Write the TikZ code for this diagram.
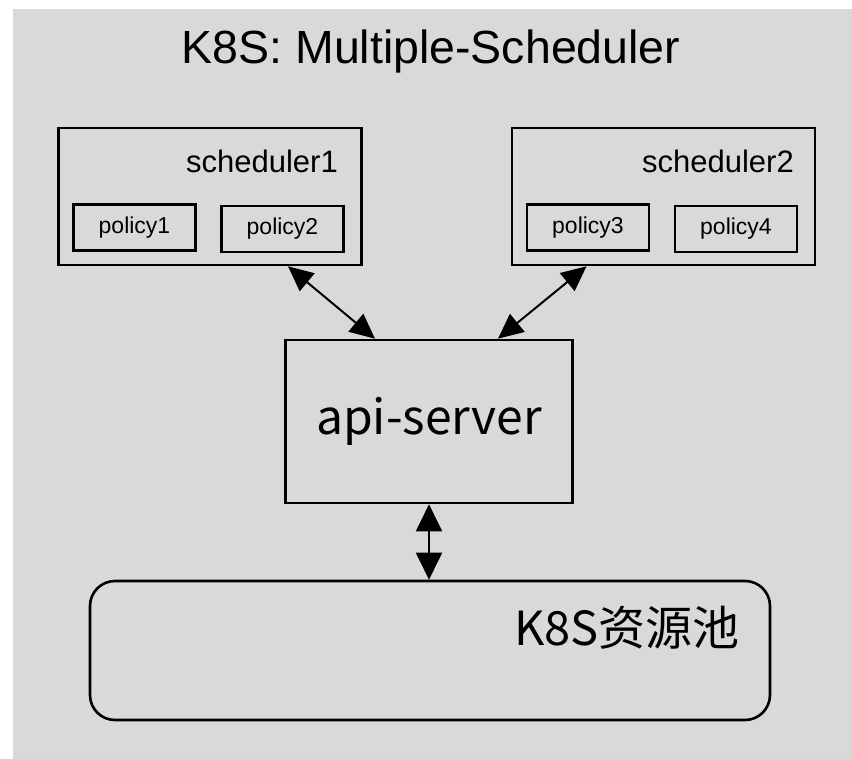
\documentclass[tikz,border=0pt]{standalone}
\usepackage{fontspec}
\setmainfont{Liberation Sans}
\newfontfamily\cjk{Noto Sans CJK SC}
\usetikzlibrary{arrows.meta, positioning}
\definecolor{bggray}{HTML}{D9D9D9}
\tikzset{
  schedbox/.style = {rectangle, draw=black, line width=2.6pt,
                     minimum width=303pt, minimum height=137pt, inner sep=0pt},
  polbox/.style   = {rectangle, draw=black, line width=2.3pt,
                     minimum width=122pt, minimum height=46pt, inner sep=0pt,
                     font=\fontsize{23}{25}\selectfont},
  schedtxt/.style = {anchor=east, inner sep=0pt, font=\fontsize{31}{34}\selectfont},
  apibox/.style   = {rectangle, draw=black, line width=2.6pt,
                     minimum width=287pt, minimum height=163pt, inner sep=0pt,
                     font=\cjk\fontsize{48}{52}\selectfont},
  poolbox/.style  = {rectangle, rounded corners=25pt, draw=black, line width=2.6pt,
                     minimum width=680pt, minimum height=139pt, inner sep=0pt},
  arr/.style      = {{Triangle[length=25pt,width=23pt]}-{Triangle[length=25pt,width=23pt]},
                     line width=2pt},
  varr/.style     = {{Triangle[length=27pt,width=26pt]}-{Triangle[length=27pt,width=26pt]},
                     line width=2pt},
}
\begin{document}
\begin{tikzpicture}[x=1pt, y=-1pt]
  \useasboundingbox (0,0) rectangle (852,759);
  \fill[bggray] (13,9) rectangle (852,759);

  \node[font=\fontsize{46.5}{50}\selectfont] (title) at (431,51) {K8S: Multiple-Scheduler};

  % schedulers
  \node[schedbox] (sched1) at (210,196.5) {};
  \node[schedtxt] (s1txt) at (338,161) {scheduler1};
  \node[polbox] (pol1) at (134.5,227.5) {policy1};
  \node[polbox] (pol2) at (282.5,229) {policy2};

  \node[schedbox] (sched2) at (663.5,196.5) {};
  \node[schedtxt] (s2txt) at (794,161) {scheduler2};
  \node[polbox] (pol3) at (588,227.5) {policy3};
  \node[polbox] (pol4) at (736,229) {policy4};

  \node[apibox] (api) at (429,421.5) {api-server};

  \node[poolbox] (pool) at (430,650.5) {};
  \node[font=\cjk\fontsize{47}{51}\selectfont, inner sep=0pt] (pooltxt) at (627,628) {K8S资源池};

  \draw[arr] ([xshift=78pt]sched1.south) -- ([xshift=-54pt]api.north);
  \draw[arr] ([xshift=-77pt]sched2.south) -- ([xshift=69pt]api.north);
  \draw[varr] (api.south) -- (api.south |- pool.north);
\end{tikzpicture}
\end{document}
